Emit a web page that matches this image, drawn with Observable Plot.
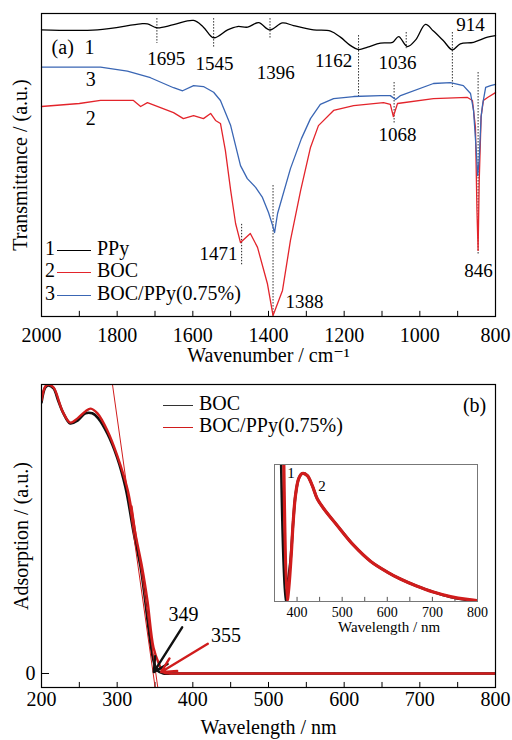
<!DOCTYPE html>
<html><head><meta charset="utf-8">
<script src="https://cdn.jsdelivr.net/npm/d3@7"></script>
<script src="https://cdn.jsdelivr.net/npm/@observablehq/plot@0.6"></script>
<style>
body{margin:0;background:#fff;}
#wrap{position:relative;width:512px;height:740px;font-family:"Liberation Serif","DejaVu Serif",serif;color:#000;}
#wrap svg, #wrap svg text{font-family:"Liberation Serif","DejaVu Serif",serif !important;}
.leg{position:absolute;font-size:20px;line-height:20px;white-space:nowrap;font-family:"Liberation Serif","DejaVu Serif",serif;}
.leg .ln{display:inline-block;height:0;vertical-align:middle;}
</style></head><body><div id="wrap"></div>
<script>
// ---------- Panel (a): FTIR spectra ----------
const ppyWn = [2000,1852,1738,1720,1696,1651,1598,1572,1545,1508,1482,1455,1426,1397,1363,1334,1281,1236,1210,1183,1162,1138,1104,1072,1056,1033,1011,985,964,937,914,893,858,821,800];
const ppyT  = [94.6,94.6,96.6,96.6,95.3,96.3,97.7,95.5,92.0,94.6,95.7,95.5,97.0,94.6,96.9,96.0,94.6,94.2,92.2,89.4,88.1,88.9,90.2,90.5,92.4,89.1,91.3,96.4,94.2,90.9,88.0,90.0,90.5,92.2,92.7];

const bocWn = [2000,1900,1844,1757,1738,1720,1651,1625,1598,1572,1553,1540,1527,1514,1500,1487,1474,1448,1429,1403,1388,1363,1342,1315,1289,1268,1228,1175,1096,1078,1070,1059,964,874,861,853,849,846,843,838,832,821,800];
const bocT  = [69.3,70.3,71.3,71.3,69.3,70.6,67.3,65.3,66.3,65.3,67.0,64.7,63.7,54.8,41.6,30.7,24.4,27.4,22.8,10.9,0.3,8.6,25.1,41.6,55.8,63.0,68.0,69.6,70.6,70.0,66.0,70.3,71.9,72.3,71.3,62.4,35.0,21.8,45.0,66.0,71.3,72.3,73.9];

const bpWn = [2000,1844,1773,1712,1651,1627,1598,1572,1545,1527,1514,1500,1487,1474,1456,1434,1416,1400,1389,1384,1376,1342,1313,1289,1263,1228,1175,1104,1078,1064,1051,964,919,885,866,858,851,847,843,838,834,826,813,800];
const bpT  = [82.3,82.3,81.0,78.8,75.5,74.5,76.2,75.9,74.0,71.3,67.3,63.0,56.4,49.8,45.5,42.6,39.3,34.3,30.0,27.7,34.0,48.8,58.7,65.3,70.0,71.9,72.6,72.9,72.9,71.6,72.9,76.9,77.2,76.2,73.6,68.0,55.0,46.5,52.0,66.0,70.0,75.6,76.2,76.6];

const wnLabels = [2000,1800,1600,1400,1200,1000,800];
const wnTicks = [1900,1800,1700,1600,1500,1400,1300,1200,1100,1000,900];

const peakWn   = [1695,1545,1396,1162,1036,914,1068,846,1471,1388];
const peakTop  = [98.3,98.3,98.3,92.7,93.7,93.7,77.2,80.5,30.4,43.2];
const peakBot  = [90.1,88.4,91.7,72.3,88.4,75.6,63.7,20.1,16.8,0];
const peakText = ["1695","1545","1396","1162","1036","914","1068","846","1471","1388"];
const peakLblWn = [1670,1543,1381,1228,1059,866,1059,845,1532,1305];
const peakLblT  = [85.1,83.2,80.5,84.2,83.7,96.4,59.9,15.2,20.6,4.8];

const curveLblText = ["(a)","1","3","2"];
const curveLblWn = [1944,1873,1870,1870];
const curveLblT  = [88.8,88.8,78.1,65.2];

// ---------- Panel (b): UV-vis ----------
const bocNm = [200,205,209,216,222,229,238,248,258,267,275,287,300,311,322,331,337,341,344,348,353,361,372,400,800];
const bocAbs = [0.968,1.021,1.029,1.018,0.975,0.929,0.893,0.904,0.929,0.929,0.911,0.857,0.771,0.664,0.5,0.379,0.261,0.17,0.107,0.046,0.011,0,0,0,0];
const bpNm = [200,205,209,216,228,238,248,258,265,274,287,300,314,324,333,340,348,355,361,370,385,420,800];
const bpAbs = [0.975,1.025,1.032,1.021,0.935,0.896,0.912,0.936,0.946,0.929,0.868,0.779,0.654,0.5,0.379,0.261,0.093,0.036,0.004,0,0,0,0];

const nmLabels = [200,300,400,500,600,700,800];
const nmTicks = [250,300,350,400,450,500,550,600,650,700,750];

const tanX1 = [350.2,353.7], tanY1 = [-0.05,-0.05], tanX2 = [293.8,319.6], tanY2 = [1.032,0.6];
const arrX1 = [385.9,419.8], arrY1 = [0.165,0.106], arrX2 = [348.4,358.2], arrY2 = [0.005,0.005];
const arrColor = ["#111","#d01c1c"];
const edgeText = ["349","355"], edgeNm = [387.7,443.8], edgeAbs = [0.209,0.134];

// ---------- Inset ----------
const insRedNm = [370.7,378.1,381.6,387,391.4,396.5,403.8,411.4,422.5,433.6,444.7,459.3,489,525.8,563.5,600,629.1,665,702,740.1,777.8,800];
const insRedV  = [1.0,0.007,0.095,0.336,0.579,0.774,0.898,0.934,0.920,0.847,0.75,0.677,0.555,0.409,0.292,0.215,0.164,0.113,0.069,0.036,0.015,0.007];
const insBlkNm = [364.8,374.5,380,385.5,391.4,396.5,403.8,411.4,422.5,433.6,444.7,459.3,489,525.8,563.5,600,629.1,665,702,740.1,777.8,800];
const insBlkV  = [1.0,0.005,0.15,0.3,0.579,0.774,0.898,0.934,0.920,0.847,0.75,0.677,0.555,0.409,0.292,0.215,0.164,0.113,0.069,0.033,0.011,0.003];
const insLabels = [400,500,600,700,800];
const insTicks = [400,450,500,550,600,650,700,750];
const insLblText = ["1","2"], insLblNm = [386.6,455.3], insLblV = [0.938,0.843];

// ---------- helpers ----------
const zip = (xs, ys) => xs.map((x, i) => ({x, y: ys[i]}));
const FONT = '"Liberation Serif","DejaVu Serif",serif';
const RED_A = "#e3242b", BLUE_A = "#3a66b4", RED_B = "#d01c1c";
const fmt = d => String(d);
const wrap = document.getElementById("wrap");
function place(el, left, top) {
  el.style.position = "absolute"; el.style.left = left + "px"; el.style.top = top + "px";
  el.style.fontFamily = FONT; el.style.background = "transparent";
  wrap.appendChild(el);
}

// ---------- Panel (a) plot ----------
const dots = peakWn.map((x, i) => ({x, y1: peakTop[i], y2: peakBot[i]}));
const peaks = peakText.map((t, i) => ({t, x: peakLblWn[i], y: peakLblT[i]}));
const clbl = curveLblText.map((t, i) => ({t, x: curveLblWn[i], y: curveLblT[i]}));

const plotA = Plot.plot({
  width: 512, height: 370,
  marginLeft: 41, marginRight: 17, marginTop: 13, marginBottom: 54,
  x: {domain: [2000, 800]},
  y: {domain: [0, 100], axis: null},
  style: {fontFamily: FONT, fontSize: "20px", background: "transparent", color: "black"},
  marks: [
    Plot.ruleX(wnTicks, {y1: 0, y2: 1.7, stroke: "black"}),
    Plot.axisX(wnLabels, {anchor: "bottom", tickSize: 0, tickPadding: 11, fontSize: 20, label: null, tickFormat: fmt}),
    Plot.text(["Wavenumber / cm⁻¹"], {text: d => d, frameAnchor: "bottom", lineAnchor: "middle", textAnchor: "middle", dy: 39, fontSize: 20}),
    Plot.text(["Transmittance / (a.u.)"], {text: d => d, frameAnchor: "left", rotate: -90, textAnchor: "middle", lineAnchor: "middle", dx: -21, fontSize: 20}),
    Plot.ruleX(dots, {x: "x", y1: "y1", y2: "y2", stroke: "#222", strokeWidth: 1, strokeDasharray: "1.4,1.6"}),
    Plot.line(zip(bocWn, bocT), {x: "x", y: "y", stroke: RED_A, strokeWidth: 1.3}),
    Plot.line(zip(bpWn, bpT), {x: "x", y: "y", stroke: BLUE_A, strokeWidth: 1.3}),
    Plot.line(zip(ppyWn, ppyT), {x: "x", y: "y", stroke: "black", strokeWidth: 1.3, curve: "catmull-rom"}),
    Plot.text(peaks, {x: "x", y: "y", text: "t", fontSize: 19, lineAnchor: "middle"}),
    Plot.text(clbl, {x: "x", y: "y", text: "t", fontSize: 20, lineAnchor: "middle"}),
    Plot.frame({stroke: "black", strokeWidth: 1.2})
  ]
});
place(plotA, 0, 0);

// ---------- Panel (b) plot ----------
const tangents = tanX1.map((x1, i) => ({x1, y1: tanY1[i], x2: tanX2[i], y2: tanY2[i]}));
const arrows = arrX1.map((x1, i) => ({x1, y1: arrY1[i], x2: arrX2[i], y2: arrY2[i], c: arrColor[i]}));
const edges = edgeText.map((t, i) => ({t, x: edgeNm[i], y: edgeAbs[i]}));

const plotB = Plot.plot({
  width: 512, height: 370,
  marginLeft: 41, marginRight: 17, marginTop: 14, marginBottom: 53,
  x: {domain: [200, 800]},
  y: {domain: [-0.05, 1.032]},
  style: {fontFamily: FONT, fontSize: "20px", background: "transparent", color: "black"},
  marks: [
    Plot.ruleX(nmTicks, {y1: -0.05, y2: -0.032, stroke: "black"}),
    Plot.ruleY([0], {x1: 200, x2: 210.6, stroke: "black"}),
    Plot.axisX(nmLabels, {anchor: "bottom", tickSize: 0, tickPadding: 4, fontSize: 20, label: null, tickFormat: fmt}),
    Plot.axisY([0], {anchor: "left", tickSize: 0, tickPadding: 6, fontSize: 20, label: null, tickFormat: fmt}),
    Plot.text(["Wavelength / nm"], {text: d => d, frameAnchor: "bottom", lineAnchor: "middle", textAnchor: "middle", dy: 39.6, fontSize: 20}),
    Plot.text(["Adsorption / (a.u.)"], {text: d => d, frameAnchor: "left", rotate: -90, textAnchor: "middle", lineAnchor: "middle", dx: -20, fontSize: 20}),
    Plot.line(zip(bocNm, bocAbs), {x: "x", y: "y", stroke: "#111", strokeWidth: 2.6, curve: "catmull-rom", clip: true}),
    Plot.line(zip(bpNm, bpAbs), {x: "x", y: "y", stroke: RED_B, strokeWidth: 2.4, curve: "catmull-rom", clip: true}),
    Plot.link(tangents, {x1: "x1", y1: "y1", x2: "x2", y2: "y2", stroke: RED_B, strokeWidth: 1, clip: true}),
    Plot.arrow(arrows, {x1: "x1", y1: "y1", x2: "x2", y2: "y2", stroke: "c", strokeWidth: 2.4, headLength: 10, headAngle: 55}),
    Plot.text(edges, {x: "x", y: "y", text: "t", fontSize: 20, lineAnchor: "middle"}),
    Plot.text(["(b)"], {text: d => d, x: 772.3, y: 0.957, fontSize: 20, lineAnchor: "middle"}),
    Plot.frame({stroke: "black", strokeWidth: 1.2})
  ]
});
place(plotB, 0, 370);

// ---------- Inset ----------
const insLbls = insLblText.map((t, i) => ({t, x: insLblNm[i], y: insLblV[i]}));
const plotI = Plot.plot({
  width: 250, height: 190,
  marginLeft: 20, marginRight: 27, marginTop: 10, marginBottom: 43,
  x: {domain: [350, 800]},
  y: {domain: [0, 1], axis: null},
  style: {fontFamily: FONT, fontSize: "14px", background: "transparent", color: "black"},
  marks: [
    Plot.ruleX(insTicks, {y1: 0, y2: 0.03, stroke: "#555"}),
    Plot.axisX(insLabels, {anchor: "bottom", tickSize: 0, tickPadding: 6, fontSize: 14, label: null, tickFormat: fmt}),
    Plot.text(["Wavelength / nm"], {text: d => d, frameAnchor: "bottom", lineAnchor: "middle", textAnchor: "middle", dx: 13, dy: 26, fontSize: 15}),
    Plot.line(zip(insBlkNm, insBlkV), {x: "x", y: "y", stroke: "#111", strokeWidth: 2.6, curve: "catmull-rom", clip: true}),
    Plot.line(zip(insRedNm, insRedV), {x: "x", y: "y", stroke: RED_B, strokeWidth: 3.2, curve: "catmull-rom", clip: true}),
    Plot.text(insLbls, {x: "x", y: "y", text: "t", fontSize: 15, lineAnchor: "middle"}),
    Plot.frame({stroke: "#777", strokeWidth: 1})
  ]
});
place(plotI, 254, 454);

// ---------- Legends (HTML) ----------
function legRow(left, top, num, color, lineW, label, gapL) {
  const d = document.createElement("div");
  d.className = "leg";
  d.style.left = left + "px"; d.style.top = top + "px";
  d.innerHTML = (num ? `<span>${num}</span>` : "") +
    `<span class="ln" style="width:${lineW}px;border-top:1.6px solid ${color};margin:0 6px 0 ${gapL}px"></span><span>${label}</span>`;
  wrap.appendChild(d);
}
legRow(45, 238, "1", "black", 34, "PPy", 2);
legRow(45, 260, "2", RED_A, 34, "BOC", 2);
legRow(45, 283, "3", BLUE_A, 34, "BOC/PPy(0.75%)", 2);
legRow(163, 393, "", "#333", 30, "BOC", 0);
legRow(163, 415, "", RED_B, 30, "BOC/PPy(0.75%)", 0);
</script>
</body></html>
